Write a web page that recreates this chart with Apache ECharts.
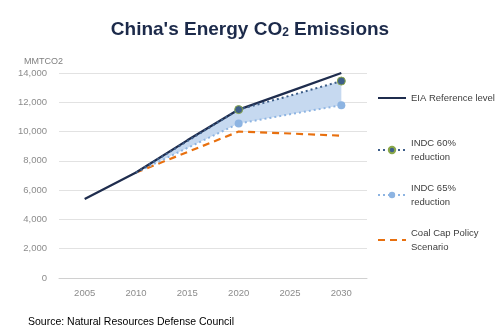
<!DOCTYPE html>
<html><head><meta charset="utf-8">
<script src="https://cdn.jsdelivr.net/npm/echarts@6/dist/echarts.min.js"></script>
<style>html,body{margin:0;padding:0;background:#fff}#c{width:500px;height:334px}</style>
</head><body><div id="c"></div>
<script>
var years = ['2005','2010','2015','2020','2025','2030'];
var eia = [5400, 7200, 9400, 11500, 12750, 14000];
var indc60 = [null, 7200, 9350, 11500, 12450, 13450];
var indc65 = [null, 7200, 8880, 10550, 11180, 11800];
var coal = [null, 7200, 8600, 10000, 9870, 9720];
var yTicks = [0, 2000, 4000, 6000, 8000, 10000, 12000, 14000];

var band = indc60.map(function(v, i){ return v == null ? null : v - indc65[i]; });
function marked(arr){
  return arr.map(function(v, i){
    return (years[i] === '2020' || years[i] === '2030') ? v : {value: v, symbol: 'none'};
  });
}
var chart = echarts.init(document.getElementById('c'));
var legendText = {color: '#404040', fontSize: 9.5, fontFamily: 'Liberation Sans, Arial', lineHeight: 14};
function leg(name, top, label, hideSymbol){
  var l = {data: [name], left: 377, top: top, padding: 0, orient: 'vertical', itemWidth: 28, itemHeight: 8,
    formatter: function(){ return label; }, textStyle: legendText, selectedMode: false};
  if (hideSymbol) l.itemStyle = {opacity: 0};
  return l;
}
chart.setOption({
  animation: false,
  title: {
    text: "{t|China's Energy CO}{s|2}{t| Emissions}",
    left: 'center', top: 13,
    textStyle: {rich: {
      t: {fontSize: 19, fontWeight: 'bold', color: '#1c2a4a', fontFamily: 'Liberation Sans, Arial', verticalAlign: 'bottom'},
      s: {fontSize: 12, fontWeight: 'bold', color: '#1c2a4a', fontFamily: 'Liberation Sans, Arial', padding: [9, 0, 0, 0]}
    }}
  },
  graphic: [
    {type: 'text', left: 24, top: 57, style: {text: 'MMTCO2', fill: '#808080', fontSize: 9, fontFamily: 'Liberation Sans, Arial'}},
    {type: 'text', left: 28, top: 317, style: {text: 'Source: Natural Resources Defense Council', fill: '#000', fontSize: 10.5, fontFamily: 'Liberation Sans, Arial'}}
  ],
  legend: [
    leg('EIA Reference level', 91, 'EIA Reference level', true),
    leg('INDC 60% reduction', 136, 'INDC 60%\nreduction'),
    leg('INDC 65% reduction', 181, 'INDC 65%\nreduction'),
    leg('Coal Cap Policy Scenario', 226, 'Coal Cap Policy\nScenario', true)
  ],
  grid: {left: 59, right: 133, top: 73, bottom: 56},
  xAxis: {
    type: 'category', data: years, boundaryGap: true,
    axisLine: {lineStyle: {color: '#d0d0d0'}}, axisTick: {show: false},
    axisLabel: {color: '#8c8c8c', fontSize: 9.5, fontFamily: 'Liberation Sans, Arial', margin: 10}
  },
  yAxis: {
    type: 'value', min: 0, max: 14000, interval: 2000,
    axisLine: {show: false}, axisTick: {show: false},
    splitLine: {lineStyle: {color: '#e2e2e2'}},
    axisLabel: {color: '#8c8c8c', fontSize: 9.5, fontFamily: 'Liberation Sans, Arial', margin: 12,
      formatter: function(v){ return yTicks.indexOf(v) >= 0 ? v.toLocaleString('en-US') : ''; }}
  },
  series: [
    {name: 'bandBase', type: 'line', stack: 'band', data: indc65, symbol: 'none', lineStyle: {width: 0}, silent: true, z: 1},
    {name: 'band', type: 'line', stack: 'band', data: band, symbol: 'none', lineStyle: {width: 0},
      areaStyle: {color: '#c6d9f0', opacity: 1}, silent: true, z: 1},
    {name: 'Coal Cap Policy Scenario', type: 'line', data: coal, symbol: 'none',
      lineStyle: {color: '#e8700f', width: 2.2, type: [7, 5]}, itemStyle: {color: '#e8700f'}, z: 3},
    {name: 'INDC 65% reduction', type: 'line', data: marked(indc65), symbol: 'circle', symbolSize: 8,
      lineStyle: {color: '#8db4e2', width: 2, type: [2, 3]}, itemStyle: {color: '#8db4e2'}, z: 4},
    {name: 'INDC 60% reduction', type: 'line', data: marked(indc60), symbol: 'circle', symbolSize: 8,
      lineStyle: {color: '#3e5f8a', width: 2, type: [2, 3]}, itemStyle: {color: '#3e5f8a', borderColor: '#8aa84a', borderWidth: 1}, z: 6},
    {name: 'EIA Reference level', type: 'line', data: eia, symbol: 'none',
      lineStyle: {color: '#1f2d4e', width: 2.3}, itemStyle: {color: '#1f2d4e'}, z: 5}
  ]
});
</script></body></html>
